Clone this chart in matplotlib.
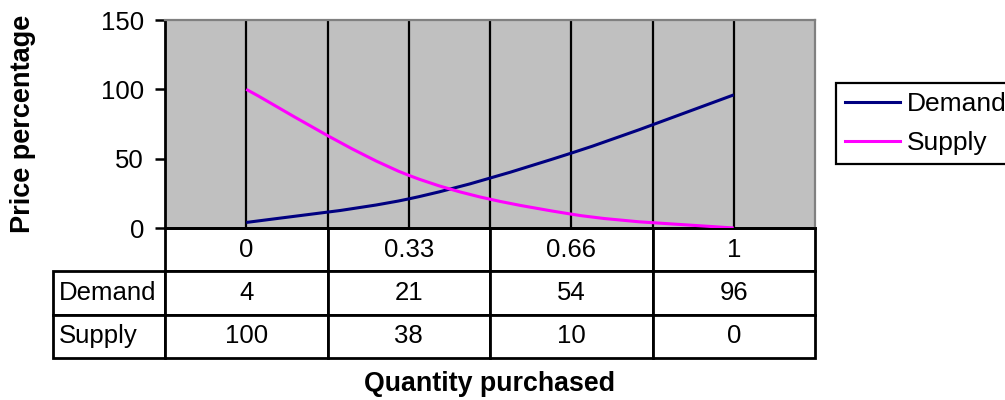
import numpy as np
import matplotlib
matplotlib.use('Agg')
import matplotlib.pyplot as plt
from matplotlib.path import Path
from matplotlib.patches import PathPatch
from matplotlib.lines import Line2D

plt.rcParams['font.family'] = ['Liberation Sans', 'DejaVu Sans']

categories = ['0', '0.33', '0.66', '1']
demand = [4, 21, 54, 96]
supply = [100, 38, 10, 0]
series_names = ['Demand', 'Supply']
series_colors = ['#000080', '#FF00FF']
y_ticks = [0, 50, 100, 150]


def smooth_path(xs, ys):
    # Excel style smoothed line: cubic bezier through every point
    pts = np.column_stack([xs, ys]).astype(float)
    n = len(pts)
    verts = [pts[0]]
    codes = [Path.MOVETO]
    for i in range(n - 1):
        p_prev = pts[i - 1] if i > 0 else pts[i]
        p_next2 = pts[i + 2] if i + 2 < n else pts[i + 1]
        c1 = pts[i] + (pts[i + 1] - p_prev) / 6.0
        c2 = pts[i + 1] - (p_next2 - pts[i]) / 6.0
        verts += [c1, c2, pts[i + 1]]
        codes += [Path.CURVE4] * 3
    return Path(verts, codes)


fig = plt.figure(figsize=(10.05, 4.0), dpi=100)
ax = fig.add_axes([165 / 1005, 172 / 400, 650 / 1005, 208 / 400])
ax.set_facecolor('#C0C0C0')

x = np.arange(len(categories))
handles = []
for vals, name, col in zip([demand, supply], series_names, series_colors):
    patch = PathPatch(smooth_path(x, vals), fill=False, edgecolor=col, lw=2.2,
                      zorder=3, capstyle='butt')
    ax.add_patch(patch)
    handles.append(Line2D([], [], color=col, lw=2.2, label=name))

ax.set_xlim(-0.5, len(categories) - 0.5)
ax.set_ylim(0, 150)
ax.set_yticks(y_ticks)
ax.set_xticks(np.arange(0, len(categories) - 0.99, 0.5))
ax.tick_params(axis='x', length=0, labelbottom=False)
ax.tick_params(axis='y', length=7.2, width=1.8, pad=8, labelsize=18.5, color='black')
ax.grid(axis='x', color='black', lw=1.6)
ax.set_axisbelow(True)

for side in ['left', 'bottom']:
    ax.spines[side].set_color('black')
    ax.spines[side].set_linewidth(2)
for side in ['top', 'right']:
    ax.spines[side].set_color('#808080')
    ax.spines[side].set_linewidth(1.6)

# data table under the plot (bbox covers the data cells only)
tbl = ax.table(cellText=[[str(v) for v in demand], [str(v) for v in supply]],
               rowLabels=series_names, colLabels=categories,
               cellLoc='center', rowLoc='left', colLoc='center',
               colWidths=[1 / len(categories)] * len(categories),
               bbox=[0, -130 / 208, 1, 130 / 208])
tbl._autoColumns = []  # fixed width for the row label column
tbl.auto_set_font_size(False)
tbl.set_fontsize(18.5)
for (r, c), cell in tbl.get_celld().items():
    cell.set_linewidth(2)
    cell.set_edgecolor('black')
    cell.set_facecolor('white')
    if c == -1:
        cell.set_width(112 / 650)
        cell.PAD = 0.05

ax.set_ylabel('Price percentage', fontsize=19.5, fontweight='bold')
ax.yaxis.set_label_coords((23 - 165) / 650, 0.5)
ax.yaxis.label.set_va('center')
ax.set_xlabel('Quantity purchased', fontsize=19.3, fontweight='bold')
ax.xaxis.set_label_coords(0.5, (228 - 384) / 208)
ax.xaxis.label.set_va('center')

leg = fig.legend(handles=handles, loc='upper left',
                 bbox_to_anchor=(836 / 1005, 1 - 83 / 400), fontsize=19,
                 frameon=True, fancybox=False, framealpha=1, edgecolor='black',
                 borderpad=0.34, labelspacing=0.58, handlelength=2.1,
                 handletextpad=0.25, borderaxespad=0)
leg.get_frame().set_linewidth(1.6)

fig.savefig('out.png', dpi=100, facecolor='white')
